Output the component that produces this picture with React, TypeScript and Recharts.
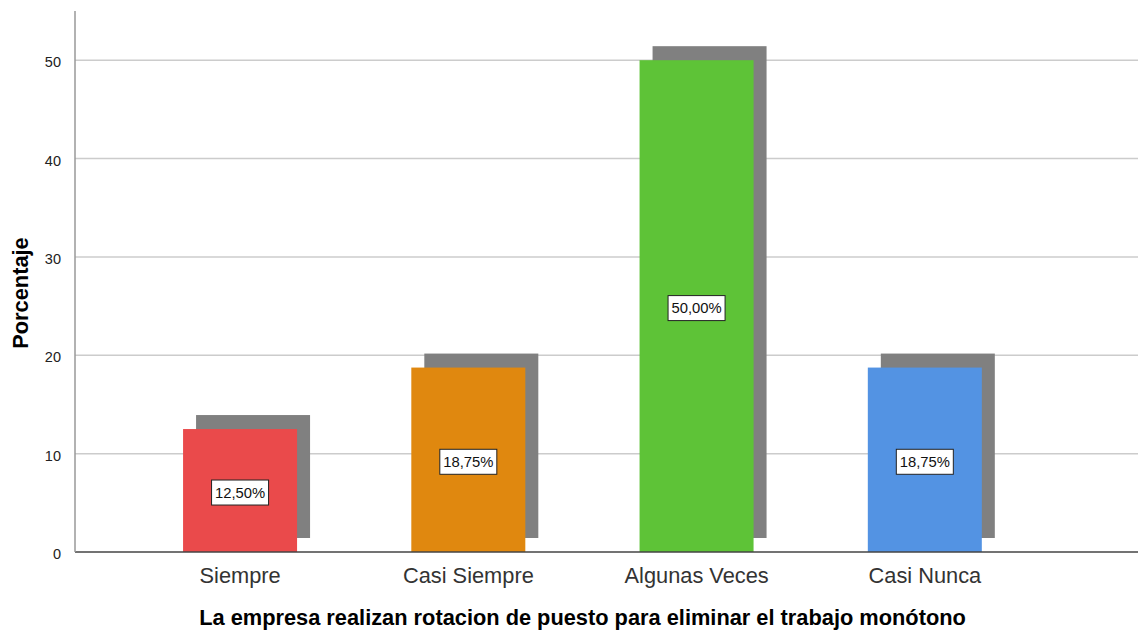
import { BarChart, Bar, XAxis, YAxis, CartesianGrid, Cell, LabelList, Label } from 'recharts'

const categories = ['Siempre', 'Casi Siempre', 'Algunas Veces', 'Casi Nunca']
const percentages = [12.5, 18.75, 50, 18.75]
const barColors = ['#EA4A4B', '#E0880F', '#5EC337', '#5393E3']
const yTicks = [0, 10, 20, 30, 40, 50]
const xTitle = 'La empresa realizan rotacion de puesto para eliminar el trabajo monótono'
const yTitle = 'Porcentaje'

const data = categories.map((name, i) => ({ name, value: percentages[i] }))

const fmt = (v: number) => v.toFixed(2).replace('.', ',') + '%'

// bar with the grey offset "3D" shadow behind it
const ShadowBar = (props: any) => {
  const { x, y, width, height, fill } = props
  if (!height) return null
  return (
    <g>
      <rect x={x + 13} y={y - 14} width={width} height={height} fill="#808080" />
      <rect x={x} y={y} width={width} height={height} fill={fill} />
    </g>
  )
}

const ValueBox = (props: any) => {
  const { x, y, width, height, value } = props
  const cx = x + width / 2
  const cy = y + height / 2 + 2
  return (
    <g>
      <rect x={cx - 28.5} y={cy - 12.5} width={57} height={25} fill="#fff" stroke="#222" strokeWidth={1} />
      <text x={cx} y={cy} textAnchor="middle" dominantBaseline="central" fontSize={14.8} fill="#111" fontFamily="'Liberation Sans', Arial, sans-serif">
        {fmt(value)}
      </text>
    </g>
  )
}

const XTick = (props: any) => {
  const { x, y, payload } = props
  return (
    <text x={x} y={y + 31} textAnchor="middle" fontSize={21.8} fill="#333" fontFamily="'Liberation Sans', Arial, sans-serif">
      {payload.value}
    </text>
  )
}

export default function App() {
  return (
    <div style={{ position: 'absolute', left: 0, top: 0, background: '#fff' }}>
      <BarChart
        width={1138}
        height={633}
        data={data}
        margin={{ top: 11, right: 0, left: 0, bottom: 0 }}
        barCategoryGap="25%"
      >
        <CartesianGrid vertical={false} stroke="#cccccc" strokeWidth={1.5} horizontalValues={yTicks.slice(1)} />
        <XAxis
          dataKey="name"
          height={81}
          padding={{ left: 51, right: 99 }}
          axisLine={{ stroke: '#444', strokeWidth: 1.5 }}
          tickLine={false}
          tickSize={0}
          tickMargin={0}
          tick={<XTick />}
          interval={0}
        >
          <Label
            content={(p: any) => {
              const vb = p.viewBox
              const cx = vb.x + 51 + (vb.width - 150) / 2
              return (
                <text x={cx} y={625} textAnchor="middle" fontSize={21.8} fontWeight="bold" fill="#000" fontFamily="'Liberation Sans', Arial, sans-serif">
                  {xTitle}
                </text>
              )
            }}
          />
        </XAxis>
        <YAxis
          width={75}
          domain={[0, 55]}
          ticks={yTicks}
          axisLine={{ stroke: '#999', strokeWidth: 1.5 }}
          tickLine={false}
          tickMargin={8}
          tick={{ fontSize: 14.5, fill: '#222', fontFamily: "'Liberation Sans', Arial, sans-serif", dy: 2 }}
        >
          <Label
            content={() => (
              <text
                x={20}
                y={293}
                transform="rotate(-90, 20, 293)"
                textAnchor="middle"
                dominantBaseline="central"
                fontSize={21.8}
                fontWeight="bold"
                fill="#000"
                fontFamily="'Liberation Sans', Arial, sans-serif"
              >
                {yTitle}
              </text>
            )}
          />
        </YAxis>
        <Bar dataKey="value" shape={<ShadowBar />} isAnimationActive={false}>
          {data.map((d, i) => (
            <Cell key={d.name} fill={barColors[i]} />
          ))}
          <LabelList dataKey="value" content={<ValueBox />} />
        </Bar>
      </BarChart>
    </div>
  )
}
